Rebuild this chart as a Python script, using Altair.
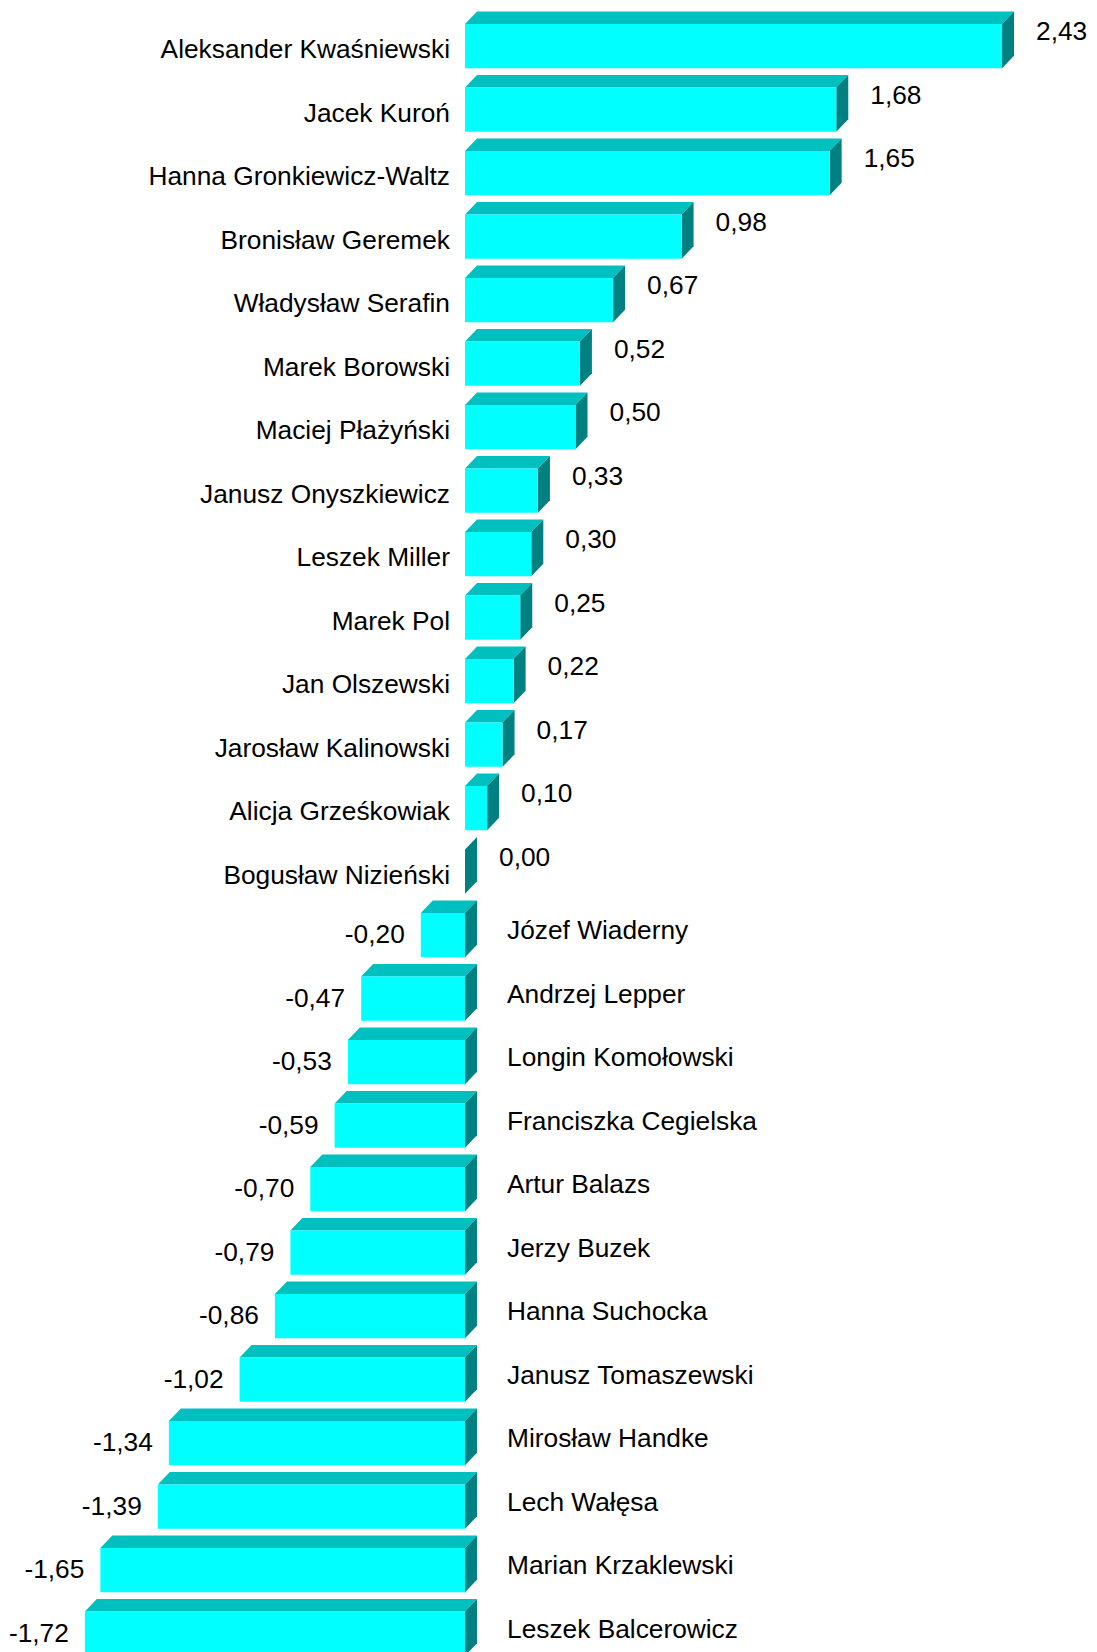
import altair as alt
import pandas as pd

names = [
    "Aleksander Kwaśniewski", "Jacek Kuroń", "Hanna Gronkiewicz-Waltz",
    "Bronisław Geremek", "Władysław Serafin", "Marek Borowski",
    "Maciej Płażyński", "Janusz Onyszkiewicz", "Leszek Miller", "Marek Pol",
    "Jan Olszewski", "Jarosław Kalinowski", "Alicja Grześkowiak",
    "Bogusław Nizieński", "Józef Wiaderny", "Andrzej Lepper",
    "Longin Komołowski", "Franciszka Cegielska", "Artur Balazs",
    "Jerzy Buzek", "Hanna Suchocka", "Janusz Tomaszewski", "Mirosław Handke",
    "Lech Wałęsa", "Marian Krzaklewski", "Leszek Balcerowicz",
]
values = [
    2.43, 1.68, 1.65, 0.98, 0.67, 0.52, 0.50, 0.33, 0.30, 0.25, 0.22, 0.17,
    0.10, 0.00, -0.20, -0.47, -0.53, -0.59, -0.70, -0.79, -0.86, -1.02,
    -1.34, -1.39, -1.65, -1.72,
]

# layout geometry
W, H = 1081, 1644
PX_PER_UNIT = 221.0      # x pixels per value unit
ROW_PX = 63.5            # pixels per row
ZERO_PX = 457            # x pixel of zero in plot area
FIRST_TOP_PX = 16        # y pixel of first bar's front top
FRONT_FRAC = 44.3 / ROW_PX
DX = 12 / PX_PER_UNIT
DY = 12.5 / ROW_PX

x_dom = [-ZERO_PX / PX_PER_UNIT, (W - ZERO_PX) / PX_PER_UNIT]
y_dom = [-FIRST_TOP_PX / ROW_PX, (H - FIRST_TOP_PX) / ROW_PX]
xs = alt.Scale(domain=x_dom, nice=False, zero=False)
ys = alt.Scale(domain=y_dom, nice=False, zero=False, reverse=True)

rows = []
side = []
top = []
for i, (n, v) in enumerate(zip(names, values)):
    x0, x1 = min(v, 0.0), max(v, 0.0)
    rows.append(dict(name=n, value=v, row=i, x0=x0, x1=x1, yt=i,
                     yb=i + FRONT_FRAC, label=f"{v:.2f}".replace(".", ","),
                     sign="pos" if v >= 0 else "neg"))
    side.append(dict(row=i, x=x1, y=i, y2=i + FRONT_FRAC))
    side.append(dict(row=i, x=x1 + DX, y=i - DY, y2=i + FRONT_FRAC - DY))
    if x1 > x0:
        top.append(dict(row=i, x=x0, y=i, y2=i))
        top.append(dict(row=i, x=x0 + DX, y=i - DY, y2=i))
        top.append(dict(row=i, x=x1, y=i - DY, y2=i))
        top.append(dict(row=i, x=x1 + DX, y=i - DY, y2=i - DY))

df = pd.DataFrame(rows)
side_df = pd.DataFrame(side)
top_df = pd.DataFrame(top)

FONT = "Liberation Sans"
FS = 26.3

front = alt.Chart(df).mark_rect(color="#00FFFF", clip=True).encode(
    x=alt.X("x0:Q", scale=xs, axis=None), x2="x1:Q",
    y=alt.Y("yt:Q", scale=ys, axis=None), y2="yb:Q")

top_face = alt.Chart(top_df).mark_area(color="#00BFBF", orient="vertical",
                                       interpolate="linear", clip=True).encode(
    x=alt.X("x:Q", scale=xs, axis=None),
    y=alt.Y("y:Q", scale=ys, axis=None, stack=None), y2="y2:Q",
    detail="row:N")

side_face = alt.Chart(side_df).mark_area(color="#008080", orient="vertical",
                                         interpolate="linear", clip=True).encode(
    x=alt.X("x:Q", scale=xs, axis=None),
    y=alt.Y("y:Q", scale=ys, axis=None, stack=None), y2="y2:Q",
    detail="row:N")

def txt(filter_sign, xfield, align, dx, dy, text):
    return alt.Chart(df).transform_filter(
        alt.datum.sign == filter_sign
    ).mark_text(align=align, baseline="alphabetic", dx=dx, dy=dy,
                font=FONT, fontSize=FS, color="#000000").encode(
        x=alt.X(f"{xfield}:Q", scale=xs, axis=None),
        y=alt.Y("yt:Q", scale=ys, axis=None),
        text=f"{text}:N")

pos_val = txt("pos", "x1", "left", 34, 16, "label")
pos_name = txt("pos", "x0", "right", -15, 34, "name")
neg_val = txt("neg", "x0", "right", -16, 30, "label")
neg_name = txt("neg", "x1", "left", 42, 26, "name")

chart = alt.layer(top_face, side_face, front, pos_val, pos_name, neg_val,
                  neg_name).properties(
    width=W, height=H, padding=0,
    autosize=alt.AutoSizeParams(type="none"),
    background="white",
).configure_view(stroke=None)

chart.save("out.html", embed_options={"renderer": "svg", "actions": False})
